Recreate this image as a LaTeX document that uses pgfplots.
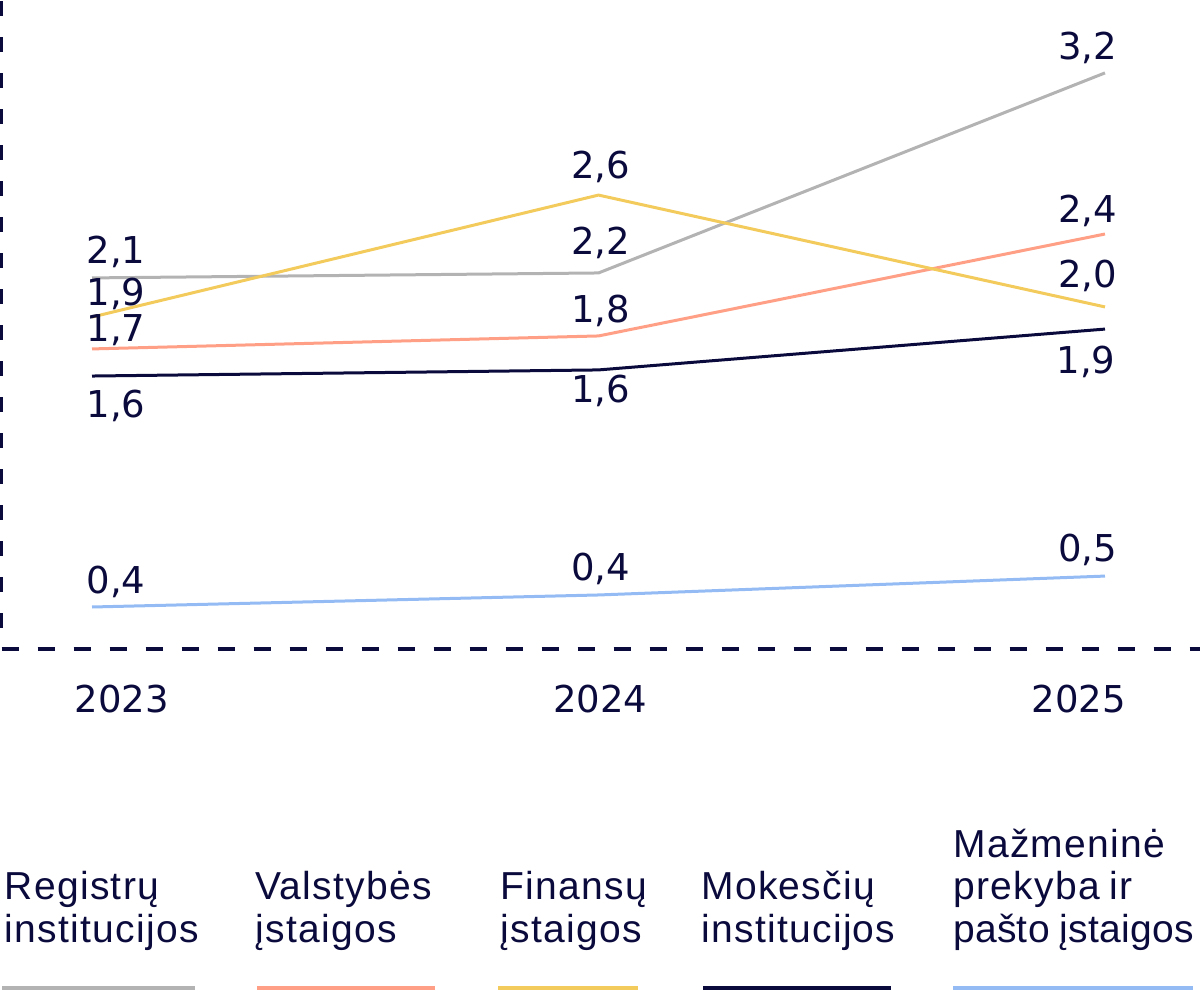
\documentclass[border=0pt]{standalone}
\usepackage{fontspec}
\setmainfont{Liberation Sans}
\newfontfamily\numfont{DejaVu Sans}
\newfontfamily\legfont[LetterSpace=3.3]{Liberation Sans}
\newfontfamily\legfontc[LetterSpace=0.6]{Liberation Sans}
\usepackage{pgfplots}
\usepackage{pgfplotstable}
\pgfplotsset{compat=1.18}
\definecolor{navy}{HTML}{0B0A3D}
\definecolor{cgrey}{HTML}{B3B3B3}
\definecolor{corange}{HTML}{FFA086}
\definecolor{cyellow}{HTML}{F2CB5C}
\definecolor{cblue}{HTML}{94BBF4}

\pgfplotstableread{
x y lab dx dy
2023 2.124 2,1 12 7
2024 2.150 2,2 1 9
2025 3.198 3,2 -8.75 6.5
}\tgrey
\pgfplotstableread{
x y lab dx dy
2023 1.752 1,7 12 3.5
2024 1.820 1,8 1 6.5
2025 2.354 2,4 -8.75 6
}\torange
\pgfplotstableread{
x y lab dx dy
2023 1.919 1,9 12 6
2024 2.558 2,6 1 8.5
2025 1.972 2,0 -8.75 9.5
}\tyellow
\pgfplotstableread{
x y lab dx dy
2023 1.610 1,6 12 -20.5
2024 1.642 1,6 1 -16.5
2025 1.856 1,9 -9.5 -22
}\tnavy
\pgfplotstableread{
x y lab dx dy
2023 0.400 0,4 12 7
2024 0.463 0,4 1 7
2025 0.562 0,5 -8.75 7.25
}\tblue

\newcommand\numsize{\numfont\fontsize{18.5bp}{20bp}\selectfont}
\newcommand\legsize{\fontsize{19.5bp}{21bp}\selectfont}

\begin{document}
\begin{tikzpicture}
\useasboundingbox (0,0) rectangle (600bp,495bp);
\begin{axis}[
  at={(0.75bp,170.5bp)}, anchor=south west,
  scale only axis, width=599.25bp, height=324.5bp,
  xmin=2022.8213, xmax=2025.1876, ymin=0.18, ymax=3.58,
  axis x line*=bottom, axis y line*=left,
  every outer x axis line/.append style={-},
  every outer y axis line/.append style={-},
  x axis line style={-, draw=navy, line width=2bp, dash pattern=on 8.5bp off 9.5bp},
  y axis line style={-, draw=navy, line width=1.5bp, dash pattern=on 7.5bp off 10.5bp, dash phase=7.5bp},
  ytick=\empty,
  xtick={2023.0592,2024.0039,2024.9487},
  xticklabels={2023,2024,2025},
  major tick length=0pt,
  xticklabel style={anchor=base, yshift=-32bp, inner sep=0pt, text=navy, font=\numsize},
  clip=false,
  point meta=explicit symbolic,
  nodes near coords,
  visualization depends on={\thisrow{dx}\as\dx},
  visualization depends on={\thisrow{dy}\as\dy},
  every node near coord/.append style={anchor=base, inner sep=0pt, xshift=\dx bp, yshift=\dy bp, text=navy, font=\numsize},
  every axis plot/.append style={line width=1.5bp, line join=round, mark=none},
]
\addplot[cgrey] table[x=x, y=y, meta=lab] {\tgrey};
\addplot[corange] table[x=x, y=y, meta=lab] {\torange};
\addplot[cyellow] table[x=x, y=y, meta=lab] {\tyellow};
\addplot[navy] table[x=x, y=y, meta=lab] {\tnavy};
\addplot[cblue] table[x=x, y=y, meta=lab] {\tblue};
\end{axis}

\begin{scope}[every node/.style={anchor=base west, inner sep=0pt, text=navy, font=\legfont\legsize}]
\node at (2.2bp,45bp) {Registrų};
\node at (2.2bp,24bp) {institucijos};
\node at (127.5bp,45bp) {Valstybės};
\node at (127.5bp,24bp) {įstaigos};
\node at (250bp,45bp) {Finansų};
\node at (250bp,24bp) {įstaigos};
\node at (350.5bp,45bp) {Mokesčių};
\node at (350.5bp,24bp) {institucijos};
\node at (476.5bp,66bp) {Mažmeninė};
\node at (476.5bp,45bp) {prekyba\hspace{5bp}ir};
\node[font=\legfontc\legsize] at (476.5bp,24bp) {pašto\hspace{5bp}įstaigos};
\end{scope}
\draw[cgrey, line width=2bp] (1bp,1bp) -- (97.5bp,1bp);
\draw[corange, line width=2bp] (128.5bp,1bp) -- (217.5bp,1bp);
\draw[cyellow, line width=2bp] (249bp,1bp) -- (319bp,1bp);
\draw[navy, line width=2bp] (351.5bp,1bp) -- (445.5bp,1bp);
\draw[cblue, line width=2bp] (476.5bp,1bp) -- (596.5bp,1bp);
\end{tikzpicture}
\end{document}
